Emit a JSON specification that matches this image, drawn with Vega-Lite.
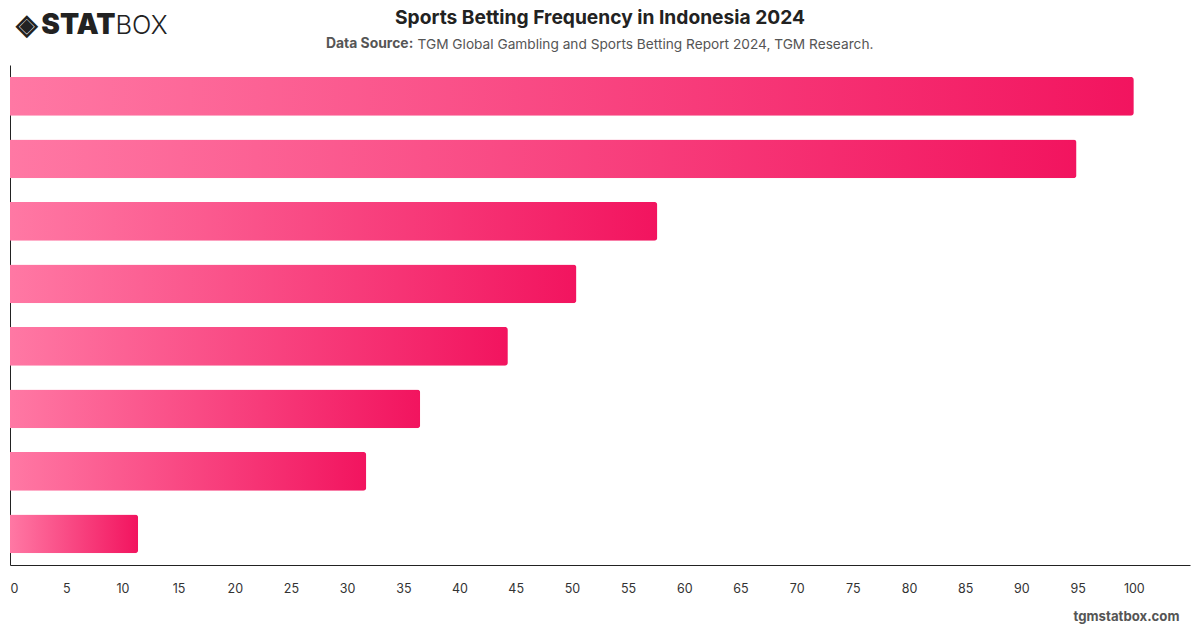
{
  "$schema": "https://vega.github.io/schema/vega-lite/v6.json",
  "width": 1180,
  "height": 500,
  "autosize": {"type": "none"},
  "padding": {"left": 10, "top": 65, "right": 10, "bottom": 63},
  "background": "white",
  "config": {"font": "Inter", "view": {"stroke": null}},
  "title": {
    "text": "Sports Betting Frequency in Indonesia 2024",
    "frame": "group",
    "anchor": "middle",
    "offset": -17,
    "fontSize": 19.2,
    "fontWeight": "bold",
    "color": "#222222"
  },
  "data": {
    "values": [
      {"category": "Category 1", "value": 100},
      {"category": "Category 2", "value": 94.9},
      {"category": "Category 3", "value": 57.6},
      {"category": "Category 4", "value": 50.4},
      {"category": "Category 5", "value": 44.3},
      {"category": "Category 6", "value": 36.5},
      {"category": "Category 7", "value": 31.7},
      {"category": "Category 8", "value": 11.4}
    ]
  },
  "resolve": {"axis": {"x": "independent", "y": "independent"}},
  "layer": [
    {
      "mark": {
        "type": "bar",
        "cornerRadiusEnd": 3,
        "color": {
          "gradient": "linear",
          "x1": 0, "y1": 0, "x2": 1, "y2": 0,
          "stops": [
            {"offset": 0, "color": "#ff78a4"},
            {"offset": 1, "color": "#f2145f"}
          ]
        }
      },
      "encoding": {
        "x": {
          "field": "value",
          "type": "quantitative",
          "scale": {"domain": [0, 105], "nice": false, "zero": true},
          "axis": {
            "orient": "bottom",
            "values": [0, 5, 10, 15, 20, 25, 30, 35, 40, 45, 50, 55, 60, 65, 70, 75, 80, 85, 90, 95, 100],
            "grid": false,
            "ticks": false,
            "tickSize": 0,
            "labelFlush": true,
            "labelPadding": 17,
            "labelFontSize": 12.5,
            "labelColor": "#333333",
            "domainColor": "#222222",
            "domainWidth": 1,
            "title": "tgmstatbox.com",
            "titleFontSize": 13.2,
            "titleFontWeight": "bold",
            "titleColor": "#555555",
            "titleAnchor": "end",
            "titleAlign": "right",
            "titleBaseline": "alphabetic",
            "titleX": 1169,
            "titleY": 55
          }
        },
        "y": {
          "field": "category",
          "type": "nominal",
          "sort": "-x",
          "scale": {"paddingInner": 0.38, "paddingOuter": 0.19},
          "axis": {
            "orient": "left",
            "labels": false,
            "ticks": false,
            "grid": false,
            "domainColor": "#222222",
            "domainWidth": 1,
            "title": "◈\u2009STAT",
            "titleAngle": 0,
            "titleAlign": "left",
            "titleBaseline": "alphabetic",
            "titleX": 5,
            "titleY": -32,
            "titleFontSize": 28,
            "titleFontWeight": 900,
            "titleColor": "#222222"
          }
        }
      }
    },
    {
      "mark": {"type": "bar", "opacity": 0},
      "encoding": {
        "x": {
          "field": "value",
          "type": "quantitative",
          "axis": {
            "orient": "top",
            "labels": false,
            "ticks": false,
            "domain": false,
            "grid": false,
            "title": "TGM Global Gambling and Sports Betting Report 2024, TGM Research.",
            "titleFontSize": 13.7,
            "titleFontWeight": "normal",
            "titleColor": "#555555",
            "titleAnchor": "start",
            "titleAlign": "left",
            "titleBaseline": "alphabetic",
            "titleX": 407,
            "titleY": -17
          }
        },
        "y": {
          "field": "category",
          "type": "nominal",
          "sort": "-x",
          "axis": {
            "orient": "right",
            "labels": false,
            "ticks": false,
            "domain": false,
            "grid": false,
            "title": "BOX",
            "titleAngle": 0,
            "titleAlign": "left",
            "titleBaseline": "alphabetic",
            "titleX": -1075,
            "titleY": -32,
            "titleFontSize": 25.5,
            "titleFontWeight": 300,
            "titleColor": "#222222"
          }
        },
        "color": {
          "datum": "Data Source",
          "scale": {"range": ["#ffffff"]},
          "legend": {
            "orient": "none",
            "legendX": 316,
            "legendY": -28,
            "padding": 0,
            "title": "Data Source:",
            "titleFontSize": 13.9,
            "titleFontWeight": "bold",
            "titleColor": "#555555",
            "titlePadding": 0,
            "labelExpr": "''",
            "labelFontSize": 1,
            "symbolSize": 0,
            "symbolOpacity": 0,
            "symbolStrokeWidth": 0
          }
        }
      }
    }
  ]
}
